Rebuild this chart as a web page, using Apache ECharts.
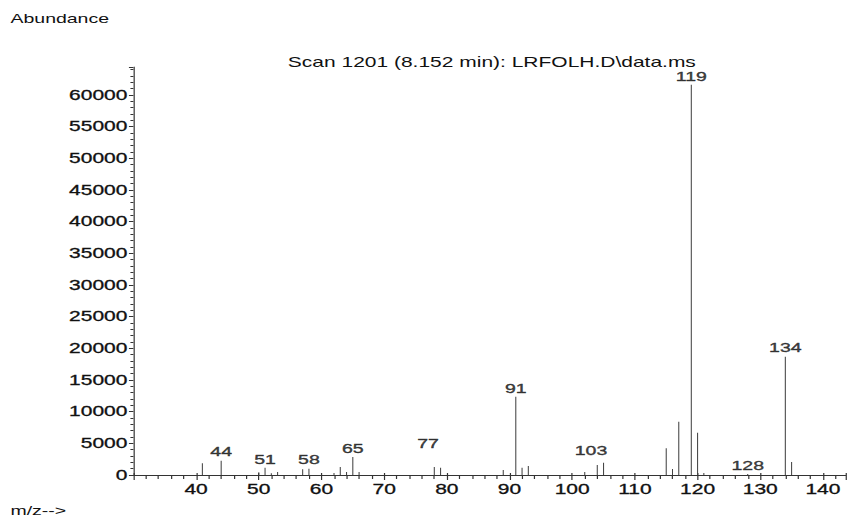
<!DOCTYPE html>
<html>
<head>
<meta charset="utf-8">
<script src="https://cdn.jsdelivr.net/npm/echarts@6/dist/echarts.min.js"></script>
<style>
  html, body { margin: 0; padding: 0; background: #fff; overflow: hidden; }
  /* the scan is drawn wide, so the whole chart is stretched sideways */
  #ms {
    width: 565px;
    height: 518px;
    transform: scaleX(1.49912);
    transform-origin: 0 0;
  }
</style>
</head>
<body>
<div id="ms"></div>
<script>
  // peaks: m/z and abundance
  var mz = [41, 44, 50, 51, 52, 53, 57, 58, 62, 63, 64, 65, 66,
            78, 79, 89, 91, 92, 93, 102, 104, 105,
            115, 116, 117, 119, 120, 121, 128, 134, 135];
  var abundance = [1850, 2260, 450, 1150, 270, 470, 900, 1000, 300, 1260, 470, 2840, 470,
                   1260, 1150, 790, 12360, 1150, 1420, 470, 1580, 1940,
                   4220, 950, 8420, 61580, 6680, 300, 150, 18680, 2050];

  // labelled masses and the abundance where each label sits
  var labelMz = [44, 51, 58, 65, 77, 91, 103, 119, 128, 134];
  var labelLevel = [2260, 1150, 1000, 2840, 3630, 12360, 2530, 61580, 150, 18680];

  var xTicks = { min: 30, max: 143.6, interval: 10 };
  var yTicks = { min: 0, max: 64400, interval: 5000 };

  var peaks = mz.map(function (m, i) { return [m, abundance[i]]; });
  var labels = labelMz.map(function (m, i) { return [m, labelLevel[i]]; });

  var chart = echarts.init(document.getElementById('ms'), null, { renderer: 'svg' });
  var font = 'Liberation Sans, Arial, sans-serif';

  var option = {
    animation: false,
    backgroundColor: '#fff',
    textStyle: { fontFamily: font },
    title: [
      { text: 'Abundance', left: 7, top: 12, padding: 0,
        textStyle: { fontSize: 13, fontWeight: 'normal', color: '#111', fontFamily: font } },
      { text: 'Scan 1201 (8.152 min): LRFOLH.D\\data.ms', left: 192, top: 55, padding: 0,
        textStyle: { fontSize: 14, fontWeight: 'normal', color: '#111', fontFamily: font } },
      { text: 'm/z-->', left: 7, top: 504, padding: 0,
        textStyle: { fontSize: 13, fontWeight: 'normal', color: '#111', fontFamily: font } }
    ],
    grid: { left: 89, right: 1, top: 67, bottom: 43, outerBoundsMode: 'none' },
    xAxis: [
      {
        type: 'value',
        position: 'bottom',
        min: xTicks.min, max: xTicks.max, interval: xTicks.interval,
        axisLine: { show: true, lineStyle: { color: '#333', width: 1 } },
        axisTick: { show: true, length: 5, lineStyle: { color: '#333', width: 0.8 } },
        minorTick: { show: true, splitNumber: 5, length: 4, lineStyle: { color: '#333', width: 0.8 } },
        splitLine: { show: false },
        axisLabel: { showMinLabel: false, showMaxLabel: false, margin: 7,
          fontSize: 14, color: '#111', fontFamily: font,
          textBorderColor: '#111', textBorderWidth: 0.3,
          formatter: function (v) { return String(v); } }
      },
      {
        // major ticks poke a little above the axis
        type: 'value',
        position: 'bottom',
        min: xTicks.min, max: xTicks.max, interval: xTicks.interval,
        axisLine: { show: false },
        axisTick: { show: true, inside: true, length: 2, lineStyle: { color: '#333', width: 0.8 } },
        splitLine: { show: false },
        axisLabel: { show: false }
      }
    ],
    yAxis: {
      type: 'value',
      min: yTicks.min, max: yTicks.max, interval: yTicks.interval,
      axisLine: { show: true, lineStyle: { color: '#333', width: 0.8 } },
      axisTick: { show: true, length: 3, lineStyle: { color: '#333', width: 1 } },
      minorTick: { show: true, splitNumber: 5, length: 2, lineStyle: { color: '#333', width: 1 } },
      splitLine: { show: false },
      axisLabel: { showMaxLabel: false, margin: 4, fontSize: 14, color: '#111', fontFamily: font,
        textBorderColor: '#111', textBorderWidth: 0.3,
        formatter: function (v) { return String(v); } }
    },
    series: [
      {
        type: 'custom',
        data: peaks,
        renderItem: function (params, api) {
          var p0 = api.coord([api.value(0), 0]);
          var p1 = api.coord([api.value(0), api.value(1)]);
          return {
            type: 'line',
            shape: { x1: p0[0], y1: p0[1], x2: p1[0], y2: p1[1] },
            style: { stroke: '#444', lineWidth: 0.7 }
          };
        }
      },
      {
        type: 'scatter',
        data: labels,
        symbolSize: 0,
        label: {
          show: true,
          position: 'top',
          distance: 2,
          fontSize: 13,
          color: '#111',
          textBorderColor: '#111',
          textBorderWidth: 0.4,
          fontFamily: font,
          formatter: function (p) { return p.value[0]; }
        }
      }
    ]
  };
  chart.setOption(option);
</script>
</body>
</html>
